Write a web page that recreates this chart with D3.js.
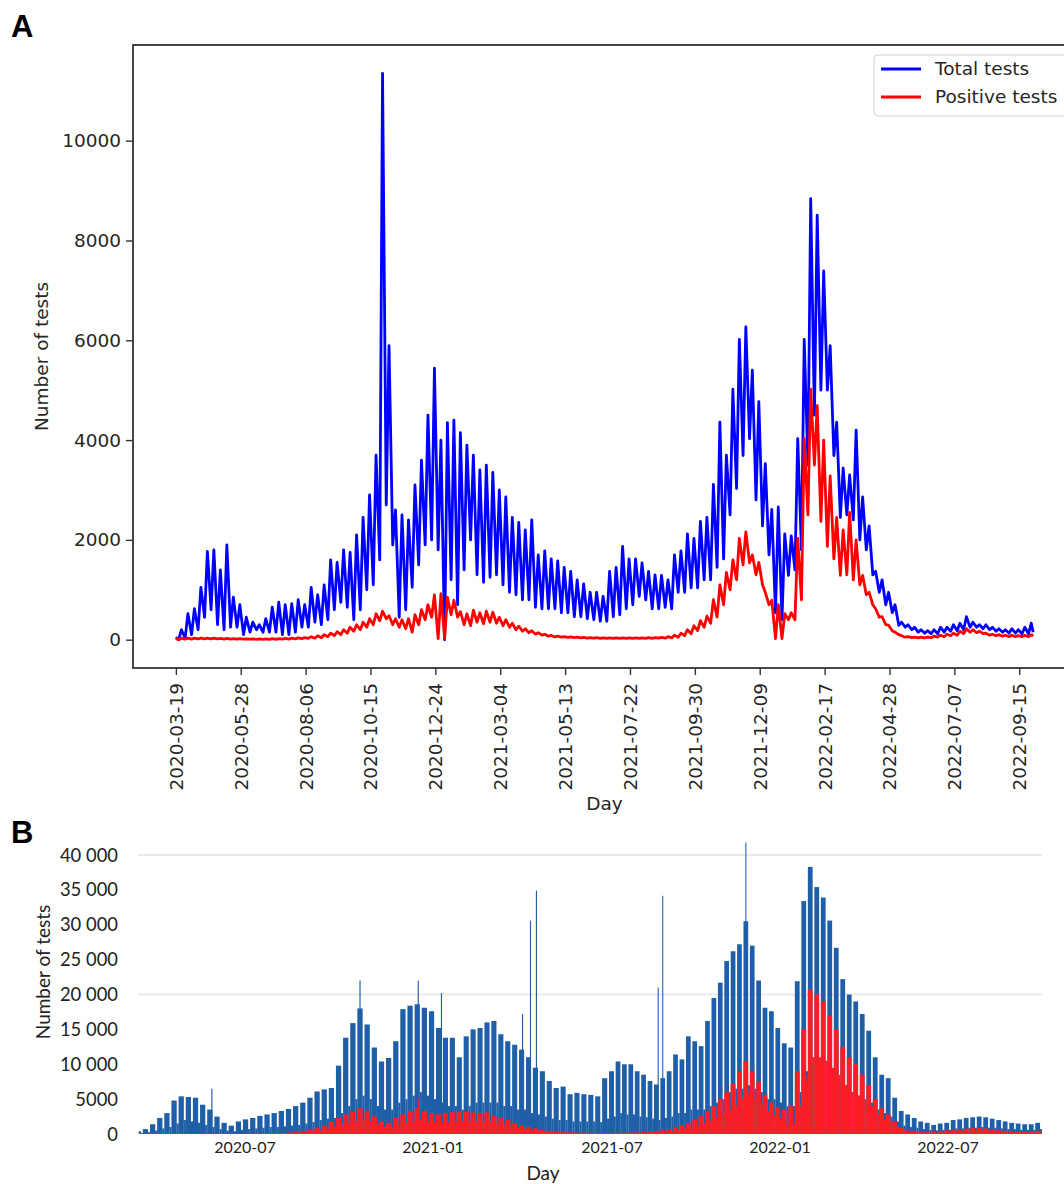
<!DOCTYPE html>
<html>
<head>
    <meta charset="utf-8">
    <title>Number of tests per day</title>
    <style>
        body {
            margin: 0;
            background: #fff;
        }

        svg {
            display: block;
        }

        .panel-tag {
            font-family: "Liberation Sans";
            font-weight: bold;
            font-size: 31px;
            fill: #000;
        }

        .axis-a text, .label-a, .legend-a text {
            font-family: "DejaVu Sans";
            font-size: 18.5px;
            fill: #262626;
        }

        .axis-a line {
            stroke: #333;
            stroke-width: 1.4;
        }

        .frame-a {
            fill: none;
            stroke: #333;
            stroke-width: 1.8;
        }

        .line-total {
            fill: none;
            stroke: #0000ff;
            stroke-width: 2.8;
            stroke-linejoin: round;
        }

        .line-pos {
            fill: none;
            stroke: #ff0000;
            stroke-width: 2.8;
            stroke-linejoin: round;
        }

        .axis-b text, .label-b {
            font-family: "Lato";
            fill: #222;
        }

        .grid-b {
            stroke: #e9e9e9;
            stroke-width: 2;
        }

        .bar-total {
            fill: #1f5fa8;
        }

        .bar-pos {
            fill: #fb1e26;
        }
    </style>
    <script src="https://d3js.org/d3.v7.min.js"></script>
</head>

<body>

<script type="text/javascript">
    // weekly readings, week k starts on Monday 2020-03-16 + 7k
    // "high" = weekday level, "low" = weekend level
    var weekStart = "2020-03-16";

    // ---- panel A (daily tests, line chart) ----
    var firstDayA = "2020-03-19",
        lastDayA = "2022-09-30";

    var tickLabelsA = ["2020-03-19", "2020-05-28", "2020-08-06", "2020-10-15", "2020-12-24",
        "2021-03-04", "2021-05-13", "2021-07-22", "2021-09-30", "2021-12-09",
        "2022-02-17", "2022-04-28", "2022-07-07", "2022-09-15"];

    var yTicksA = [0, 2000, 4000, 6000, 8000, 10000];

    var totalHighA = [50, 200, 520, 620, 1050, 1770, 1800, 1400, 1900, 850,
        700, 450, 350, 300, 420, 650, 750, 700, 720, 800,
        700, 1050, 900, 1100, 1600, 1550, 1800, 1750, 2100, 2450,
        2900, 3700, 11350, 5890, 2600, 2500, 2400, 3100, 3600, 4500,
        5440, 4000, 4350, 4400, 4150, 3900, 3700, 3400, 3500, 3350,
        3000, 2860, 2450, 2350, 2200, 2400, 1700, 1780, 1620, 1580,
        1450, 1370, 1200, 1120, 950, 950, 870, 1370, 1450, 1870,
        1620, 1620, 1540, 1370, 1300, 1290, 1200, 1700, 1780, 2120,
        2030, 2370, 2450, 3110, 4360, 3700, 5020, 6020, 6270, 5400,
        4770, 3530, 2610, 2660, 2120, 2080, 4030, 6020, 8840, 8510,
        7390, 5890, 4360, 3440, 3300, 4200, 2860, 2280, 1370, 1200,
        950, 700, 350, 300, 250, 200, 180, 200, 250, 250,
        300, 330, 460, 350, 300, 300, 250, 220, 200, 220,
        200, 250, 330];

    var totalLowA = [0, 30, 100, 200, 450, 600, 300, 200, 250, 250,
        100, 150, 200, 150, 150, 150, 100, 100, 150, 250,
        250, 350, 300, 400, 600, 750, 650, 400, 600, 1000,
        1100, 1600, 2700, 1900, 450, 600, 1050, 1500, 1900, 2000,
        1800, 0, 1200, 700, 1400, 2000, 1300, 1150, 1250, 1300,
        1100, 950, 900, 800, 800, 650, 620, 620, 620, 540,
        540, 460, 460, 420, 400, 370, 370, 460, 500, 620,
        700, 870, 800, 620, 620, 650, 620, 950, 950, 1040,
        1040, 1200, 1200, 1450, 1620, 2500, 3030, 3690, 4030, 2800,
        2280, 1700, 540, 400, 1290, 1400, 1800, 3500, 4500, 5000,
        5000, 3690, 2450, 2500, 2400, 2000, 1800, 1300, 950, 700,
        540, 290, 250, 200, 150, 130, 120, 120, 150, 170,
        180, 200, 250, 250, 220, 200, 170, 150, 130, 130,
        120, 120, 150];

    var posHighA = [20, 30, 30, 30, 30, 30, 30, 25, 25, 20,
        20, 15, 15, 15, 15, 20, 20, 25, 30, 35,
        40, 60, 80, 100, 130, 160, 200, 250, 300, 350,
        420, 520, 570, 480, 420, 400, 420, 500, 600, 700,
        900, 920, 850, 790, 560, 520, 590, 540, 570, 550,
        450, 400, 330, 270, 220, 180, 140, 110, 85, 70,
        60, 55, 50, 45, 40, 40, 35, 35, 35, 35,
        35, 35, 35, 40, 40, 45, 60, 90, 130, 200,
        280, 380, 470, 800, 1100, 1350, 1600, 2030, 2160, 1700,
        1550, 950, 790, 700, 520, 540, 2030, 4030, 5020, 4690,
        4000, 3280, 2450, 2200, 2550, 2000, 1290, 950, 620, 460,
        290, 150, 80, 60, 50, 50, 50, 70, 90, 110,
        130, 170, 220, 200, 170, 130, 110, 100, 90, 90,
        80, 90, 100];

    var posLowA = [0, 10, 10, 15, 15, 15, 15, 10, 10, 10,
        10, 10, 5, 5, 5, 5, 10, 10, 15, 20,
        25, 30, 40, 60, 80, 100, 130, 170, 200, 250,
        300, 380, 420, 300, 250, 220, 150, 300, 400, 450,
        20, 20, 500, 450, 300, 280, 350, 320, 350, 330,
        280, 250, 200, 170, 140, 110, 90, 70, 55, 50,
        45, 40, 35, 30, 30, 25, 25, 25, 25, 25,
        25, 25, 25, 25, 30, 30, 35, 50, 80, 120,
        180, 250, 330, 450, 700, 1000, 1200, 1500, 1540, 1300,
        1100, 700, 20, 20, 400, 400, 800, 2500, 3500, 2370,
        1870, 1620, 1290, 1300, 1200, 1100, 900, 700, 450, 300,
        180, 100, 50, 40, 35, 35, 40, 50, 60, 80,
        90, 120, 150, 140, 120, 90, 80, 70, 60, 60,
        60, 60, 70];

    // ---- panel B (daily tests, bar chart) ----
    var firstDayB = "2020-03-19";

    var monthLabelsB = ["2020-07", "2021-01", "2021-07", "2022-01", "2022-07"];

    var yTicksB = [0, 5000, 10000, 15000, 20000, 25000, 30000, 35000, 40000];

    var gridTicksB = [20000, 40000];

    var totalHighB = [400, 700, 1400, 2300, 3000, 4800, 5400, 5300, 5200, 4200,
        3500, 2500, 1600, 1200, 1800, 2100, 2300, 2600, 2800, 3000,
        3300, 3600, 4000, 4500, 5200, 6100, 6400, 6600, 9800, 13800,
        15900, 18000, 15700, 12400, 10400, 10900, 13300, 17900, 18400, 18600,
        18100, 17600, 15200, 13800, 13800, 11000, 14000, 15000, 15200, 16000,
        16200, 14300, 13300, 12800, 12100, 11000, 9500, 9000, 7600, 6600,
        6800, 5700, 5900, 5700, 5600, 5400, 8000, 9000, 10400, 10000,
        10000, 9000, 8500, 7600, 7100, 8000, 9000, 11400, 10700, 14000,
        13300, 12600, 16200, 19500, 21700, 24800, 26200, 27200, 30500, 27000,
        22000, 18100, 17600, 15200, 13000, 12400, 21900, 33400, 38300, 35400,
        33900, 30600, 26700, 22200, 20000, 19000, 17200, 14800, 11000, 8500,
        8000, 5200, 3300, 2800, 2300, 1800, 1600, 1300, 1500, 1600,
        2000, 2100, 2300, 2400, 2500, 2400, 2200, 2000, 1800, 1600,
        1500, 1400, 1400, 1600];

    var totalLowB = [150, 250, 500, 800, 1000, 1500, 2000, 1800, 1600, 1300,
        1000, 700, 500, 400, 600, 700, 800, 900, 1000, 1000,
        1100, 1200, 1300, 1500, 1700, 2000, 2200, 2300, 3000, 4000,
        5000, 5500, 5000, 4000, 3500, 3500, 4500, 5000, 5500, 6000,
        5500, 5000, 4500, 4000, 4000, 3500, 4000, 4500, 4500, 4500,
        4500, 4000, 4000, 3500, 3500, 3000, 2800, 2500, 2200, 2000,
        2000, 1800, 1800, 1800, 1800, 1700, 2200, 2500, 3000, 2800,
        2800, 2500, 2400, 2200, 2000, 2300, 2500, 3000, 3000, 3500,
        3500, 3500, 4000, 4500, 5000, 6000, 6500, 6500, 7000, 6500,
        6000, 5000, 5000, 4500, 4000, 4000, 6000, 9000, 11000, 10000,
        9500, 9000, 8000, 7000, 6000, 5500, 5000, 4500, 3500, 3000,
        2500, 1800, 1200, 1000, 900, 700, 600, 500, 600, 600,
        800, 800, 900, 900, 1000, 900, 900, 800, 700, 700,
        600, 600, 600, 700];

    var posHighB = [20, 30, 40, 60, 80, 100, 100, 90, 80, 60,
        50, 40, 30, 30, 30, 40, 50, 60, 80, 100,
        150, 200, 300, 450, 650, 900, 1200, 1800, 2300, 2800,
        3250, 3700, 3300, 2500, 1800, 1600, 2300, 2800, 3300, 3700,
        3300, 3000, 2800, 3000, 3100, 3200, 3200, 3100, 3000, 3100,
        2600, 2300, 2000, 1600, 1300, 1000, 800, 600, 450, 350,
        300, 250, 220, 200, 180, 160, 160, 160, 180, 200,
        220, 250, 300, 380, 450, 550, 700, 1000, 1300, 1600,
        2100, 2600, 3300, 4000, 5000, 6000, 7200, 9000, 10400, 9000,
        7500, 5600, 4500, 3800, 3500, 4000, 9000, 15000, 20700, 20000,
        19000, 17000, 15000, 12500, 11000, 10000, 8500, 7000, 5000, 3700,
        2800, 1800, 900, 500, 380, 300, 300, 350, 400, 500,
        550, 620, 750, 850, 860, 800, 650, 550, 450, 400,
        380, 380, 380, 450];

    var posLowB = [10, 10, 20, 30, 40, 50, 50, 40, 40, 30,
        20, 20, 15, 15, 15, 20, 20, 30, 40, 50,
        80, 100, 150, 250, 350, 500, 700, 1000, 1300, 1600,
        1800, 2000, 1800, 1400, 1000, 900, 1300, 1600, 1800, 2000,
        1800, 1700, 1600, 1700, 1700, 1800, 1800, 1700, 1700, 1700,
        1500, 1300, 1100, 900, 700, 600, 450, 350, 250, 200,
        180, 150, 130, 120, 100, 100, 100, 100, 100, 120,
        130, 150, 180, 220, 260, 320, 400, 600, 750, 900,
        1200, 1500, 1900, 2300, 2800, 3400, 4000, 5000, 5800, 5000,
        4200, 3200, 2600, 2200, 1500, 1500, 4000, 8000, 11000, 11000,
        10500, 9500, 8500, 7000, 6000, 5500, 4800, 4000, 2800, 2000,
        1500, 1000, 500, 300, 220, 180, 180, 200, 230, 300,
        320, 360, 430, 500, 500, 460, 380, 320, 260, 230,
        220, 220, 220, 260];

    // single days standing well above their week
    var spikeDatesB = ["2020-05-29", "2020-10-21", "2020-12-17", "2021-01-09", "2021-04-01",
        "2021-04-09", "2021-04-15", "2021-08-20", "2021-08-25", "2021-11-24"];
    var spikeTotalsB = [6500, 22000, 22000, 20200, 17200, 30600, 34900, 21000, 34150, 41800];
    var spikePosDatesB = ["2020-12-17"];
    var spikePosB = [5000];

    var parse = d3.timeParse("%Y-%m-%d"),
        week0 = parse(weekStart);

    var svg = d3.select("body").append("svg")
            .attr("width", 1064)
            .attr("height", 1184);

    renderPanelA();
    renderPanelB();

    // weekday peak on Wednesday, weekend dip on Sunday
    function weekLine(high, low, first, last) {
        var pts = [];
        high.forEach(function (h, k) {
            var wed = d3.timeDay.offset(week0, 7 * k + 2),
                sun = d3.timeDay.offset(week0, 7 * k + 6);
            pts.push({date: wed < first ? first : wed, v: h});
            pts.push({date: sun > last ? last : sun, v: low[k]});
        });
        return pts;
    }

    function renderPanelA() {
        var left = 133, right = 1076, top = 45, bottom = 668;

        var d0 = parse(firstDayA), d1 = parse(lastDayA),
            span = d1 - d0;
        var x = d3.scaleTime()
                .domain([new Date(+d0 - 0.05 * span), new Date(+d1 + 0.05 * span)])
                .range([left, right]);

        var yMax = d3.max(totalHighA), pad = 0.05 * yMax;
        var y = d3.scaleLinear()
                .domain([-pad, yMax + pad])
                .range([bottom, top]);

        svg.append("text")
                .attr("class", "panel-tag")
                .attr("x", 11)
                .attr("y", 37)
                .text("A");

        svg.append("defs")
                .append("clipPath")
                .attr("id", "clip-a")
                .append("rect")
                .attr("x", left)
                .attr("y", top)
                .attr("width", right - left)
                .attr("height", bottom - top);

        var line = d3.line()
                .x(function (d) { return x(d.date); })
                .y(function (d) { return y(d.v); });

        var body = svg.append("g").attr("clip-path", "url(#clip-a)");

        body.append("path")
                .datum(weekLine(totalHighA, totalLowA, d0, d1))
                .attr("class", "line-total")
                .attr("d", line);

        body.append("path")
                .datum(weekLine(posHighA, posLowA, d0, d1))
                .attr("class", "line-pos")
                .attr("d", line);

        svg.append("rect")
                .attr("class", "frame-a")
                .attr("x", left)
                .attr("y", top)
                .attr("width", right - left)
                .attr("height", bottom - top);

        var xAxis = svg.append("g")
                .attr("class", "axis-a")
                .attr("transform", "translate(0," + bottom + ")")
                .call(d3.axisBottom(x)
                        .tickValues(tickLabelsA.map(parse))
                        .tickFormat(d3.timeFormat("%Y-%m-%d"))
                        .tickSize(7));
        xAxis.select(".domain").remove();
        xAxis.selectAll("text")
                .attr("transform", "rotate(-90)")
                .attr("text-anchor", "end")
                .attr("x", -15)
                .attr("y", 0)
                .attr("dy", "0.35em");

        var yAxis = svg.append("g")
                .attr("class", "axis-a")
                .attr("transform", "translate(" + left + ",0)")
                .call(d3.axisLeft(y)
                        .tickValues(yTicksA)
                        .tickFormat(d3.format("d"))
                        .tickSize(7)
                        .tickPadding(5));
        yAxis.select(".domain").remove();

        svg.append("text")
                .attr("class", "label-a")
                .attr("transform", "translate(48," + (top + bottom) / 2 + ") rotate(-90)")
                .attr("text-anchor", "middle")
                .text("Number of tests");

        svg.append("text")
                .attr("class", "label-a")
                .attr("x", (left + right) / 2)
                .attr("y", 810)
                .attr("text-anchor", "middle")
                .text("Day");

        // legend, upper right (partly cut by the figure edge like the original)
        var legend = svg.append("g").attr("class", "legend-a");
        legend.append("rect")
                .attr("x", 874)
                .attr("y", 55)
                .attr("width", 196)
                .attr("height", 61)
                .attr("rx", 4)
                .attr("fill", "#fff")
                .attr("fill-opacity", 0.8)
                .attr("stroke", "#d0d0d0");

        var items = [{name: "Total tests", cls: "line-total"}, {name: "Positive tests", cls: "line-pos"}];
        items.forEach(function (it, i) {
            var cy = 69 + i * 28;
            legend.append("line")
                    .attr("class", it.cls)
                    .attr("x1", 881)
                    .attr("x2", 921)
                    .attr("y1", cy)
                    .attr("y2", cy);
            legend.append("text")
                    .attr("x", 935)
                    .attr("y", cy)
                    .attr("dy", "0.35em")
                    .text(it.name);
        });
    }

    function renderPanelB() {
        var baseY = 1134;

        var x = d3.scaleTime()
                .domain(monthLabelsB.map(function (m) { return parse(m + "-01"); }))
                .range([245, 433, 612, 780, 948]);

        var y = d3.scaleLinear()
                .domain([0, 40000])
                .range([baseY, 855]);

        svg.append("text")
                .attr("class", "panel-tag")
                .attr("x", 11)
                .attr("y", 843)
                .text("B");

        var start = parse(firstDayB);

        svg.selectAll("line.grid-b")
                .data(gridTicksB)
                .enter()
                .append("line")
                .attr("class", "grid-b")
                .attr("x1", 138)
                .attr("x2", 1042)
                .attr("y1", function (d) { return y(d); })
                .attr("y2", function (d) { return y(d); });

        // weekday block Mon-Fri and weekend block Sat-Sun for each week
        function blocks(high, low) {
            var out = [];
            high.forEach(function (h, k) {
                var mon = d3.timeDay.offset(week0, 7 * k),
                    sat = d3.timeDay.offset(mon, 5),
                    next = d3.timeDay.offset(mon, 7);
                if (mon < start) mon = start;
                out.push({from: mon, to: sat, v: h});
                out.push({from: sat, to: next, v: low[k]});
            });
            return out;
        }

        function days(dates, values) {
            return dates.map(function (d, i) {
                var day = parse(d);
                return {from: day, to: d3.timeDay.offset(day, 1), v: values[i]};
            });
        }

        function drawBars(data, cls) {
            svg.append("g")
                    .selectAll("rect")
                    .data(data)
                    .enter()
                    .append("rect")
                    .attr("class", cls)
                    .attr("x", function (d) { return x(d.from); })
                    .attr("width", function (d) { return x(d.to) - x(d.from) + 0.15; })
                    .attr("y", function (d) { return y(d.v); })
                    .attr("height", function (d) { return baseY - y(d.v); });
        }

        drawBars(blocks(totalHighB, totalLowB), "bar-total");
        drawBars(days(spikeDatesB, spikeTotalsB), "bar-total");
        drawBars(blocks(posHighB, posLowB), "bar-pos");
        drawBars(days(spikePosDatesB, spikePosB), "bar-pos");

        var fmt = function (v) {
            return v < 10000 ? String(v) : d3.format(",")(v).replace(",", " ");
        };

        svg.append("g")
                .attr("class", "axis-b")
                .selectAll("text")
                .data(yTicksB)
                .enter()
                .append("text")
                .attr("x", 118)
                .attr("y", function (d) { return y(d); })
                .attr("dy", "0.36em")
                .attr("text-anchor", "end")
                .style("font-size", "18.4px")
                .text(fmt);

        svg.append("g")
                .attr("class", "axis-b")
                .selectAll("text")
                .data(monthLabelsB)
                .enter()
                .append("text")
                .attr("x", function (d) { return x(parse(d + "-01")); })
                .attr("y", 1153)
                .attr("text-anchor", "middle")
                .style("font-size", "16px")
                .text(function (d) { return d; });

        svg.append("text")
                .attr("class", "label-b")
                .attr("transform", "translate(50,972) rotate(-90)")
                .attr("text-anchor", "middle")
                .style("font-size", "19px")
                .text("Number of tests");

        svg.append("text")
                .attr("class", "label-b")
                .attr("x", 543)
                .attr("y", 1180)
                .attr("text-anchor", "middle")
                .style("font-size", "19px")
                .text("Day");
    }
</script>

</body>

</html>
